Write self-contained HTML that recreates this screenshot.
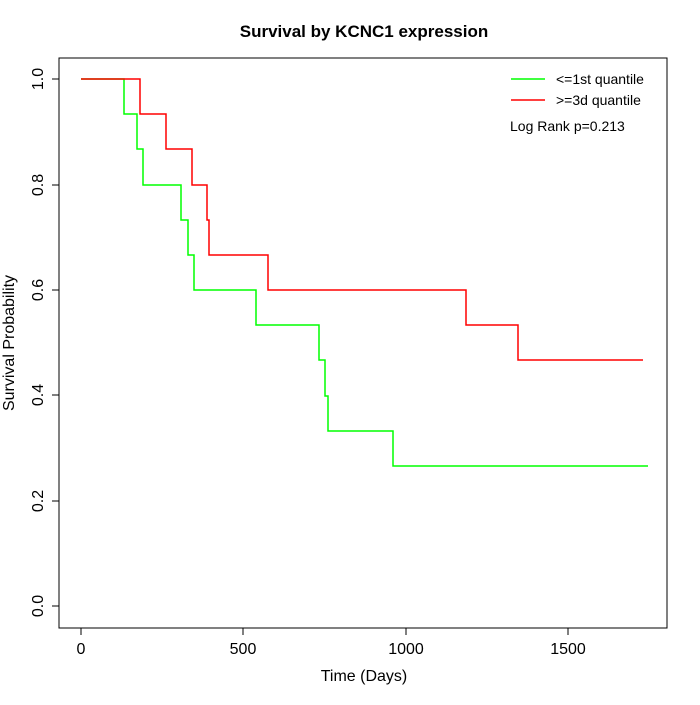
<!DOCTYPE html>
<html><head><style>body{margin:0;background:#fff}</style></head><body>
<svg width="700" height="700" xmlns="http://www.w3.org/2000/svg" font-family="Liberation Sans, sans-serif">
<rect width="700" height="700" fill="#fff"/>
<text x="364" y="37" text-anchor="middle" font-weight="bold" font-size="17">Survival by KCNC1 expression</text>
<rect x="59" y="58" width="608" height="570" fill="none" stroke="#000"/>
<g stroke="#000">
<line x1="81" y1="628" x2="81" y2="635"/><line x1="243" y1="628" x2="243" y2="635"/><line x1="406" y1="628" x2="406" y2="635"/><line x1="568" y1="628" x2="568" y2="635"/>
<line x1="81" y1="635" x2="568" y2="635" stroke="none"/>
<line x1="52" y1="606" x2="59" y2="606"/><line x1="52" y1="501" x2="59" y2="501"/><line x1="52" y1="395" x2="59" y2="395"/><line x1="52" y1="290" x2="59" y2="290"/><line x1="52" y1="185" x2="59" y2="185"/><line x1="52" y1="79" x2="59" y2="79"/>
</g>
<g font-size="16" text-anchor="middle">
<text x="81" y="654">0</text><text x="243" y="654">500</text><text x="406" y="654">1000</text><text x="568" y="654">1500</text>
<text x="364" y="681">Time (Days)</text>
</g>
<g font-size="16" text-anchor="middle">
<text transform="translate(43,606) rotate(-90)">0.0</text>
<text transform="translate(43,501) rotate(-90)">0.2</text>
<text transform="translate(43,395) rotate(-90)">0.4</text>
<text transform="translate(43,290) rotate(-90)">0.6</text>
<text transform="translate(43,185) rotate(-90)">0.8</text>
<text transform="translate(43,79) rotate(-90)">1.0</text>
<text transform="translate(14,343) rotate(-90)">Survival Probability</text>
</g>
<polyline fill="none" stroke="#00ff00" stroke-width="1.5" points="81,79 124,79 124,114 137,114 137,149 143,149 143,185 181,185 181,220 188,220 188,255 194,255 194,290 256,290 256,325 319,325 319,360 325,360 325,396 328,396 328,431 393,431 393,466 648,466"/>
<polyline fill="none" stroke="#ff0000" stroke-width="1.5" points="81,79 140,79 140,114 166,114 166,149 192,149 192,185 207,185 207,220 209,220 209,255 268,255 268,290 466,290 466,325 518,325 518,360 643,360"/>
<line x1="511" y1="79" x2="545" y2="79" stroke="#00ff00" stroke-width="1.5"/>
<line x1="511" y1="100" x2="545" y2="100" stroke="#ff0000" stroke-width="1.5"/>
<g font-size="14">
<text x="556" y="84">&lt;=1st quantile</text>
<text x="556" y="105">&gt;=3d quantile</text>
<text x="510" y="131">Log Rank p=0.213</text>
</g>
</svg>
</body></html>
